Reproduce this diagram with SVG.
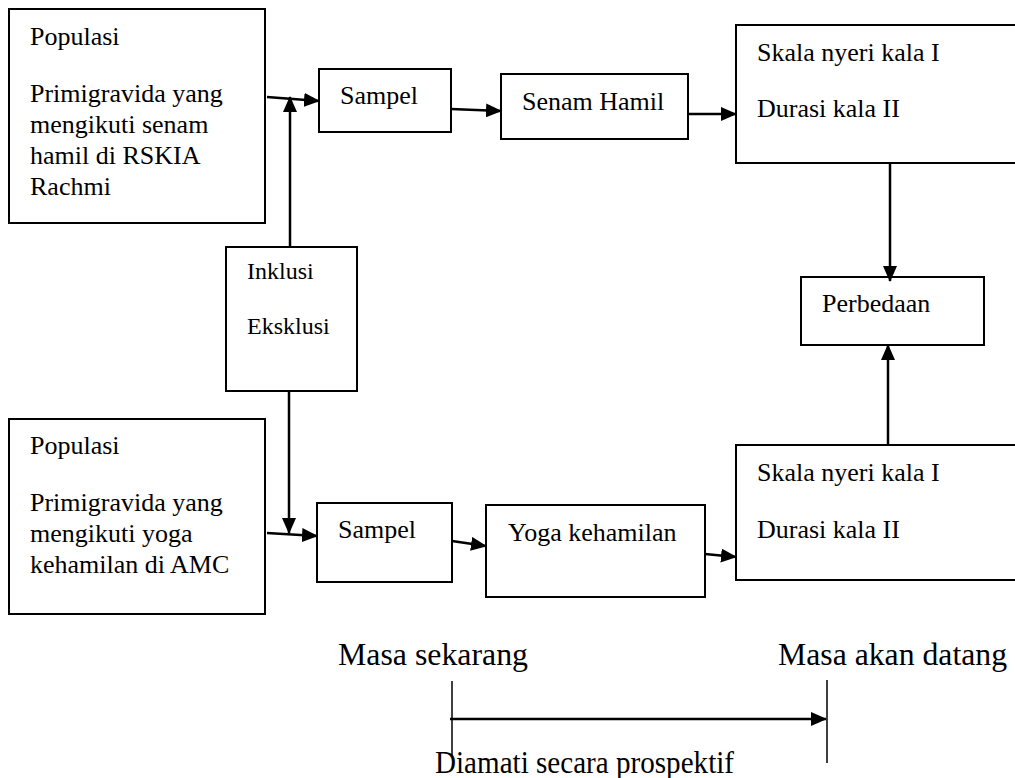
<svg xmlns="http://www.w3.org/2000/svg" width="1015" height="778" viewBox="0 0 1015 778">
<defs>
<style>
.box{fill:#fff;stroke:#000;stroke-width:2}
.t{font-family:"Liberation Serif","Times New Roman",serif;font-size:26px;fill:#000}
.ts{font-family:"Liberation Serif","Times New Roman",serif;font-size:24px;fill:#000}
.tl{font-family:"Liberation Serif","Times New Roman",serif;font-size:31px;fill:#000}
.c{stroke:#000;stroke-width:2.5;fill:none;marker-end:url(#ah)}
.thin{stroke:#000;stroke-width:1.5;fill:none}
</style>
<marker id="ah" markerUnits="userSpaceOnUse" markerWidth="16" markerHeight="14" refX="15" refY="7" orient="auto">
<path d="M0,0 L16,7 L0,14 Z" fill="#000"/>
</marker>
</defs>
<rect width="1015" height="778" fill="#fff"/>

<g id="pop1">
<rect class="box" x="9" y="9" width="256" height="214"/>
<text class="t" x="30" y="45">Populasi</text>
<text class="t" x="30" y="102">Primigravida yang</text>
<text class="t" x="30" y="133">mengikuti senam</text>
<text class="t" x="30" y="164">hamil di RSKIA</text>
<text class="t" x="30" y="195">Rachmi</text>
</g>

<g id="sampel1">
<rect class="box" x="319" y="69" width="132" height="63"/>
<text class="t" x="340" y="104">Sampel</text>
</g>

<g id="senam">
<rect class="box" x="501" y="74" width="187" height="65"/>
<text class="t" x="522" y="110">Senam Hamil</text>
</g>

<g id="hasil1">
<rect class="box" x="736" y="25" width="290" height="138"/>
<text class="t" x="757" y="61">Skala nyeri kala I</text>
<text class="t" x="757" y="117">Durasi kala II</text>
</g>

<g id="perbedaan">
<rect class="box" x="801" y="277" width="183" height="68"/>
<text class="t" x="822" y="312">Perbedaan</text>
</g>

<g id="inklusi">
<rect class="box" x="226" y="247" width="131" height="144"/>
<text class="ts" x="247" y="279">Inklusi</text>
<text class="ts" x="247" y="334">Eksklusi</text>
</g>

<g id="pop2">
<rect class="box" x="9" y="419" width="256" height="195"/>
<text class="t" x="30" y="454">Populasi</text>
<text class="t" x="30" y="511">Primigravida yang</text>
<text class="t" x="30" y="542">mengikuti yoga</text>
<text class="t" x="30" y="573">kehamilan di AMC</text>
</g>

<g id="sampel2">
<rect class="box" x="317" y="503" width="135" height="79"/>
<text class="t" x="338" y="538">Sampel</text>
</g>

<g id="yoga">
<rect class="box" x="486" y="505" width="219" height="92"/>
<text class="t" x="508" y="541">Yoga kehamilan</text>
</g>

<g id="hasil2">
<rect class="box" x="736" y="445" width="290" height="135"/>
<text class="t" x="757" y="481">Skala nyeri kala I</text>
<text class="t" x="757" y="538">Durasi kala II</text>
</g>

<g id="connectors">
<line class="c" x1="267" y1="97" x2="319" y2="101"/>
<line class="c" x1="290" y1="247" x2="290" y2="97"/>
<line class="c" x1="451" y1="109" x2="501" y2="111"/>
<line class="c" x1="688" y1="114" x2="736" y2="114"/>
<line class="c" x1="890" y1="163" x2="890" y2="281"/>
<line class="c" x1="888" y1="445" x2="888" y2="345"/>
<line class="c" x1="289" y1="391" x2="289" y2="533"/>
<line class="c" x1="267" y1="533" x2="317" y2="536"/>
<line class="c" x1="452" y1="541" x2="486" y2="546"/>
<line class="c" x1="705" y1="554" x2="736" y2="557"/>
</g>

<g id="timeline">
<text class="tl" x="338" y="665" textLength="190" lengthAdjust="spacingAndGlyphs">Masa sekarang</text>
<text class="tl" x="778" y="665" textLength="229" lengthAdjust="spacingAndGlyphs">Masa akan datang</text>
<line class="thin" x1="452" y1="681" x2="452" y2="757"/>
<line class="thin" x1="827" y1="680" x2="827" y2="763"/>
<line class="c" x1="450" y1="719" x2="826" y2="719"/>
<text class="tl" x="435" y="773" textLength="299" lengthAdjust="spacingAndGlyphs">Diamati secara prospektif</text>
</g>
</svg>
